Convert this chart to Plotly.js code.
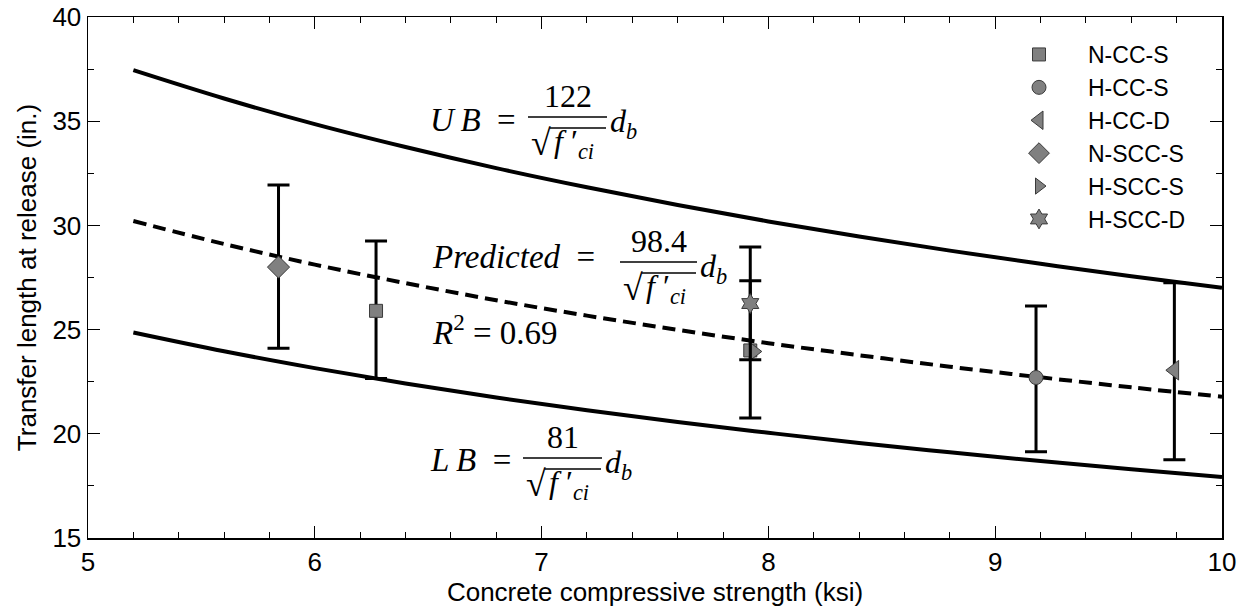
<!DOCTYPE html>
<html>
<head>
<meta charset="utf-8">
<script src="https://cdn.plot.ly/plotly-3.0.1.min.js"></script>
<style>html,body{margin:0;padding:0;background:#fff;}#chart{width:1245px;height:609px;}</style>
</head>
<body>
<div id="chart"></div>
<script>
// ---- data ----
const fcGrid   = [5.2, 5.6, 6.0, 6.4, 6.8, 7.2, 7.6, 8.0, 8.4, 8.8, 9.2, 9.6, 10.0];
const ubVals   = [37.45, 36.09, 34.86, 33.76, 32.75, 31.83, 30.98, 30.19, 29.47, 28.79, 28.16, 27.56, 27.01];
const predVals = [30.21, 29.11, 28.12, 27.23, 26.41, 25.67, 24.99, 24.35, 23.77, 23.22, 22.71, 22.23, 21.78];
const lbVals   = [24.86, 23.96, 23.15, 22.41, 21.74, 21.13, 20.57, 20.05, 19.56, 19.11, 18.69, 18.30, 17.93];

const seriesNames = ["N-CC-S", "H-CC-S", "H-CC-D", "N-SCC-S", "H-SCC-S", "H-SCC-D"];
const nccsX = [6.27, 7.92],  nccsY = [25.9, 24.0],  nccsHi = [3.35, 3.35], nccsLo = [3.25, 3.24];
const hccsX = [9.18],        hccsY = [22.7],        hccsHi = [3.43],       hccsLo = [3.56];
const hccdX = [9.79],        hccdY = [23.05],       hccdHi = [4.2],        hccdLo = [4.3];
const nsccsX = [5.84],       nsccsY = [28.0],       nsccsHi = [3.94],      nsccsLo = [3.9];
const hsccsX = [7.94],       hsccsY = [23.95];
const hsccdX = [7.92],       hsccdY = [26.25],      hsccdHi = [2.71],      hsccdLo = [2.7];

const xTitle = "Concrete compressive strength (ksi)";
const yTitle = "Transfer length at release (in.)";

// ---- layout helpers (pixel -> data) ----
const PL = 88, PR = 1222, PT = 17, PB = 538;
const XR = [5, 10], YR = [15, 40];
const X = px => XR[0] + (px - PL) / (PR - PL) * (XR[1] - XR[0]);
const Y = py => YR[0] + (PB - py) / (PB - PT) * (YR[1] - YR[0]);

const sans = "Liberation Sans, Arial, sans-serif";
const serif = "Liberation Serif, Times New Roman, serif";
const mfont = {family: serif, size: 33, color: "#000"};
const nfont = {family: serif, size: 32, color: "#000"};

const annotations = [];
const shapes = [];
function ann(px, py, text, anchor, font) {
  annotations.push({x: X(px), y: Y(py), xref: "x", yref: "y", text: text, showarrow: false,
    xanchor: anchor, yanchor: "middle", font: font});
}
function formula(label, labelLeft, labelY, num, barL, barR, barY) {
  ann(labelLeft, labelY, label, "left", mfont);
  ann((barL + barR) / 2, barY - 21, num, "center", nfont);
  shapes.push({type: "line", xref: "x", yref: "y", x0: X(barL), x1: X(barR), y0: Y(barY), y1: Y(barY),
    line: {color: "#000", width: 1.6}});
  ann(barL + 1, barY + 26, "√", "left", {family: serif, size: 36, color: "#000"});
  ann(barL + 24, barY + 26, "<i>f</i> ′<sub><i>ci</i></sub>", "left", nfont);
  shapes.push({type: "line", xref: "x", yref: "y", x0: X(barL + 22), x1: X(barR - 1), y0: Y(barY + 11), y1: Y(barY + 11),
    line: {color: "#000", width: 1.3}});
  ann(barR + 1, barY + 6, "<i>d</i><sub><i>b</i></sub>", "left", nfont);
}
formula("<i>U\u2009B</i>\u2002=", 428, 120, "122", 528, 607, 117);
formula("<i>Predicted</i>\u2002=", 430, 257, "98.4", 620, 697, 262);
formula("<i>L\u2009B</i>\u2002=", 428, 460, "81", 523, 602, 458);
ann(430, 330, "<i>R</i><sup>2</sup>\u2005=\u20050.69", "left", mfont);

// ---- traces ----
const curveLine = (y, dash) => ({x: fcGrid, y: y, type: "scatter", mode: "lines", showlegend: false,
  hoverinfo: "skip", line: {color: "#000", width: 4, shape: "spline", dash: dash}});

const mk = (symbol, size) => ({symbol: symbol, size: size, color: "#808080", line: {color: "#3a3a3a", width: 1}});
const err = (hi, lo) => ({type: "data", symmetric: false, array: hi, arrayminus: lo,
  color: "#000", thickness: 3, width: 11});

const traces = [
  curveLine(ubVals, "solid"),
  curveLine(predVals, "13px,7px"),
  curveLine(lbVals, "solid"),
  {x: nccsX, y: nccsY, name: seriesNames[0], type: "scatter", mode: "markers", marker: mk("square", 13), error_y: err(nccsHi, nccsLo)},
  {x: hccsX, y: hccsY, name: seriesNames[1], type: "scatter", mode: "markers", marker: mk("circle", 14), error_y: err(hccsHi, hccsLo)},
  {x: hccdX, y: hccdY, name: seriesNames[2], type: "scatter", mode: "markers", marker: mk("triangle-left", 17), error_y: err(hccdHi, hccdLo)},
  {x: nsccsX, y: nsccsY, name: seriesNames[3], type: "scatter", mode: "markers", marker: mk("diamond", 17), error_y: err(nsccsHi, nsccsLo)},
  {x: hsccsX, y: hsccsY, name: seriesNames[4], type: "scatter", mode: "markers", marker: mk("triangle-right", 14)},
  {x: hsccdX, y: hsccdY, name: seriesNames[5], type: "scatter", mode: "markers", marker: mk("hexagram", 15), error_y: err(hsccdHi, hsccdLo)}
];

const axisCommon = {
  showline: true, linecolor: "#000", linewidth: 1.5, mirror: "allticks",
  ticks: "inside", ticklen: 12, tickwidth: 1, tickcolor: "#000",
  showgrid: false, zeroline: false,
  tickfont: {family: sans, size: 26, color: "#000"}
};

const layout = {
  width: 1245, height: 609,
  margin: {l: PL, r: 1245 - PR, t: PT, b: 609 - PB},
  paper_bgcolor: "#fff", plot_bgcolor: "#fff",
  font: {family: sans, color: "#000"},
  xaxis: Object.assign({}, axisCommon, {range: XR, dtick: 1, tick0: 5,
    minor: {ticks: "inside", ticklen: 6, dtick: 0.2, tickcolor: "#000", showgrid: false},
    title: {text: xTitle, font: {family: sans, size: 26, color: "#000"}, standoff: 6}}),
  yaxis: Object.assign({}, axisCommon, {range: YR, dtick: 5, tick0: 15,
    minor: {ticks: "inside", ticklen: 6, dtick: 2.5, tickcolor: "#000", showgrid: false},
    title: {text: yTitle, font: {family: sans, size: 26, color: "#000"}, standoff: 8}}),
  legend: {xanchor: "left", yanchor: "top",
    bgcolor: "rgba(0,0,0,0)", borderwidth: 0, itemwidth: 88,
    font: {family: sans, size: 23, color: "#000"}},
  showlegend: true,
  annotations: annotations,
  shapes: shapes
};
// legend position is in paper units
layout.legend.x = (990 - PL) / (PR - PL);
layout.legend.y = (PB - 33) / (PB - PT);

Plotly.newPlot("chart", traces, layout, {displayModeBar: false, staticPlot: true});
</script>
</body>
</html>
